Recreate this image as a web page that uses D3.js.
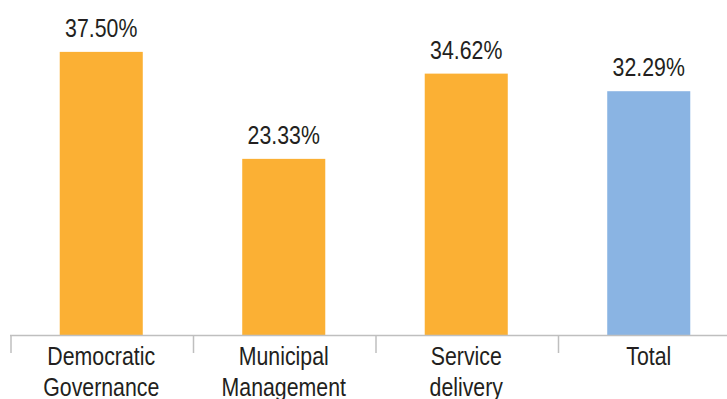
<!DOCTYPE html>
<html>
<head>
<meta charset="utf-8">
<script src="https://cdn.jsdelivr.net/npm/d3@7"></script>
<style>
  body { margin: 0; background: #fff; }
  text { font-family: "Liberation Sans", Arial, sans-serif; fill: #231f20; }
</style>
</head>
<body>
<svg></svg>
<script>
// -------------------------------------------------------------
const width = 727;
const height = 399;

const categories = [["Democratic", "Governance"], ["Municipal", "Management"], ["Service", "delivery"], ["Total"]];
const values     = [37.50, 23.33, 34.62, 32.29];
const labels     = ["37.50%", "23.33%", "34.62%", "32.29%"];
const colors     = ["#fbb034", "#fbb034", "#fbb034", "#8ab4e3"];

const narrow = 0.82;   // squeeze text to look like a narrow face

const svg = d3.select('svg').attr('width', width).attr('height', height);

const x = d3.scaleBand()
  .domain(d3.range(values.length))
  .range([10, 740]);

const y = d3.scaleLinear()
  .domain([0, 40])
  .range([335, 33]);

const barW = x.bandwidth() * 0.455;
const cx = i => x(i) + x.bandwidth() / 2;

// bars
svg.selectAll('.bar')
  .data(values)
  .enter().append('rect')
  .attr('class', 'bar')
  .attr('x', (d, i) => cx(i) - barW / 2)
  .attr('y', d => y(d))
  .attr('width', barW)
  .attr('height', d => y(0) - y(d))
  .attr('fill', (d, i) => colors[i]);

// value labels
svg.selectAll('.val')
  .data(values)
  .enter().append('text')
  .attr('class', 'val')
  .attr('transform', (d, i) => `translate(${cx(i)},${y(d) - 15}) scale(${narrow},1)`)
  .attr('text-anchor', 'middle')
  .style('font-size', '26px')
  .text((d, i) => labels[i]);

// axis line + ticks
svg.append('line')
  .attr('x1', x(0)).attr('x2', width)
  .attr('y1', y(0) + 0.5).attr('y2', y(0) + 0.5)
  .attr('stroke', '#bfbfbf').attr('stroke-width', 1.5);

svg.selectAll('.tick')
  .data(d3.range(values.length))
  .enter().append('line')
  .attr('class', 'tick')
  .attr('x1', i => x(i) + 1).attr('x2', i => x(i) + 1)
  .attr('y1', y(0)).attr('y2', y(0) + 18)
  .attr('stroke', '#bfbfbf').attr('stroke-width', 1.5);

// category labels
const cat = svg.selectAll('.cat')
  .data(categories)
  .enter().append('text')
  .attr('class', 'cat')
  .attr('transform', (d, i) => `translate(${cx(i)},365) scale(${narrow},1)`)
  .attr('text-anchor', 'middle')
  .style('font-size', '26px');

cat.selectAll('tspan')
  .data(d => d)
  .enter().append('tspan')
  .attr('x', 0)
  .attr('y', (d, j) => j * 31)
  .text(d => d);
</script>
</body>
</html>
